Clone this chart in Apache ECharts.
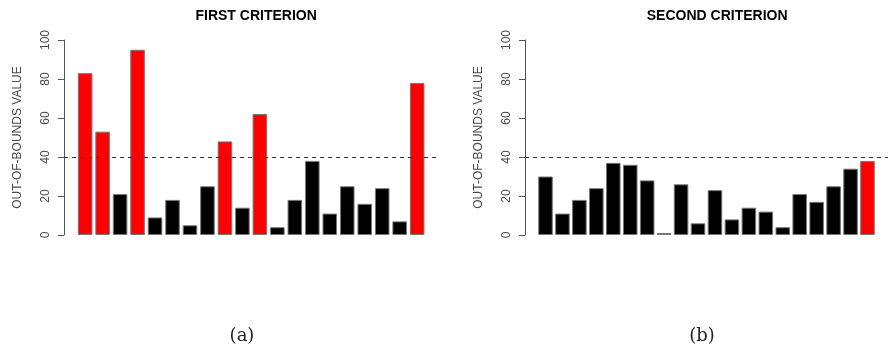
<!DOCTYPE html>
<html>
<head>
<meta charset="utf-8">
<script src="https://cdn.jsdelivr.net/npm/echarts@6/dist/echarts.min.js"></script>
<style>
  html, body { margin: 0; padding: 0; background: #fff; }
  #chart { width: 888px; height: 350px; }
</style>
</head>
<body>
<div id="chart"></div>
<script>
// ---- data ----
const titles = ['FIRST CRITERION', 'SECOND CRITERION'];
const captions = ['(a)', '(b)'];
const yAxisName = 'OUT-OF-BOUNDS VALUE';
const yTicks = [0, 20, 40, 60, 80, 100];
const threshold = 40;

const firstValues  = [83, 53, 21, 95, 9, 18, 5, 25, 48, 14, 62, 4, 18, 38, 11, 25, 16, 24, 7, 78];
const firstRed     = [1, 1, 0, 1, 0, 0, 0, 0, 1, 0, 1, 0, 0, 0, 0, 0, 0, 0, 0, 1];
const secondValues = [30, 11, 18, 24, 37, 36, 28, 1, 26, 6, 23, 8, 14, 12, 4, 21, 17, 25, 34, 38];
const secondRed    = [0, 0, 0, 0, 0, 0, 0, 0, 0, 0, 0, 0, 0, 0, 0, 0, 0, 0, 0, 1];

// ---- layout (R barplot convention: width 1, space 0.2, 4% axis extension) ----
const n = firstValues.length;
const space = 0.2, bw = 1;
const pos = Array.from({length: n}, (_, i) => space + bw / 2 + i * (bw + space));
const lo = space, hi = n * (bw + space);
const ext = (hi - lo) * 0.04;
const xmin = lo - ext, xmax = hi + ext;

const gridW = 374.3, gridTop = 40, gridH = 195;
const gridLefts = [64, 525];
const unitPx = gridW / (xmax - xmin);

const grey = '#4a4a4a';

function makeSeries(idx, values, red) {
  return {
    type: 'bar',
    xAxisIndex: idx, yAxisIndex: idx,
    barWidth: unitPx * bw,
    data: values.map((v, i) => ({
      value: [pos[i], v],
      itemStyle: { color: red[i] ? '#ff0000' : '#000000' }
    })),
    itemStyle: { borderColor: '#777', borderWidth: 1 },
    emphasis: { disabled: true },
    silent: true,
    animation: false,
    markLine: {
      silent: true,
      symbol: ['none', 'none'],
      label: { show: false },
      lineStyle: { type: [4, 4], color: '#333', width: 1 },
      data: [{ yAxis: threshold }],
      animation: false
    }
  };
}

const chart = echarts.init(document.getElementById('chart'), null, { renderer: 'canvas' });
const option = {
  backgroundColor: '#ffffff',
  animation: false,
  title: [
    { text: titles[0], left: gridLefts[0] + gridW / 2, top: 4, textAlign: 'center',
      textStyle: { fontFamily: 'Liberation Sans, Arial, sans-serif', fontSize: 14, fontWeight: 'bold', color: '#000' } },
    { text: titles[1], left: gridLefts[1] + gridW / 2, top: 4, textAlign: 'center',
      textStyle: { fontFamily: 'Liberation Sans, Arial, sans-serif', fontSize: 14, fontWeight: 'bold', color: '#000' } },
    { text: captions[0], left: 237, top: 322, textAlign: 'center',
      textStyle: { fontFamily: 'DejaVu Serif, serif', fontSize: 18, fontWeight: 'normal', color: '#222' } },
    { text: captions[1], left: 697, top: 322, textAlign: 'center',
      textStyle: { fontFamily: 'DejaVu Serif, serif', fontSize: 18, fontWeight: 'normal', color: '#222' } }
  ],
  grid: gridLefts.map(l => ({ left: l, top: gridTop, width: gridW, height: gridH, containLabel: false })),
  xAxis: [0, 1].map(i => ({
    type: 'value', gridIndex: i, min: xmin, max: xmax, show: false
  })),
  yAxis: [0, 1].map(i => ({
    type: 'value', gridIndex: i, min: yTicks[0], max: yTicks[yTicks.length - 1], interval: yTicks[1] - yTicks[0],
    name: yAxisName, nameLocation: 'middle', nameGap: 40, nameRotate: 90,
    nameTextStyle: { fontFamily: 'Liberation Sans, Arial, sans-serif', fontSize: 12, color: grey },
    axisLine: { show: true, onZero: false, lineStyle: { color: '#555', width: 1 } },
    axisTick: { show: true, length: 6, lineStyle: { color: '#555', width: 1 } },
    axisLabel: { rotate: 90, margin: 12, fontFamily: 'Liberation Sans, Arial, sans-serif', fontSize: 12, color: grey,
                 showMinLabel: true, showMaxLabel: true, hideOverlap: false },
    splitLine: { show: false }
  })),
  series: [
    makeSeries(0, firstValues, firstRed),
    makeSeries(1, secondValues, secondRed)
  ]
};
chart.setOption(option);
</script>
</body>
</html>
